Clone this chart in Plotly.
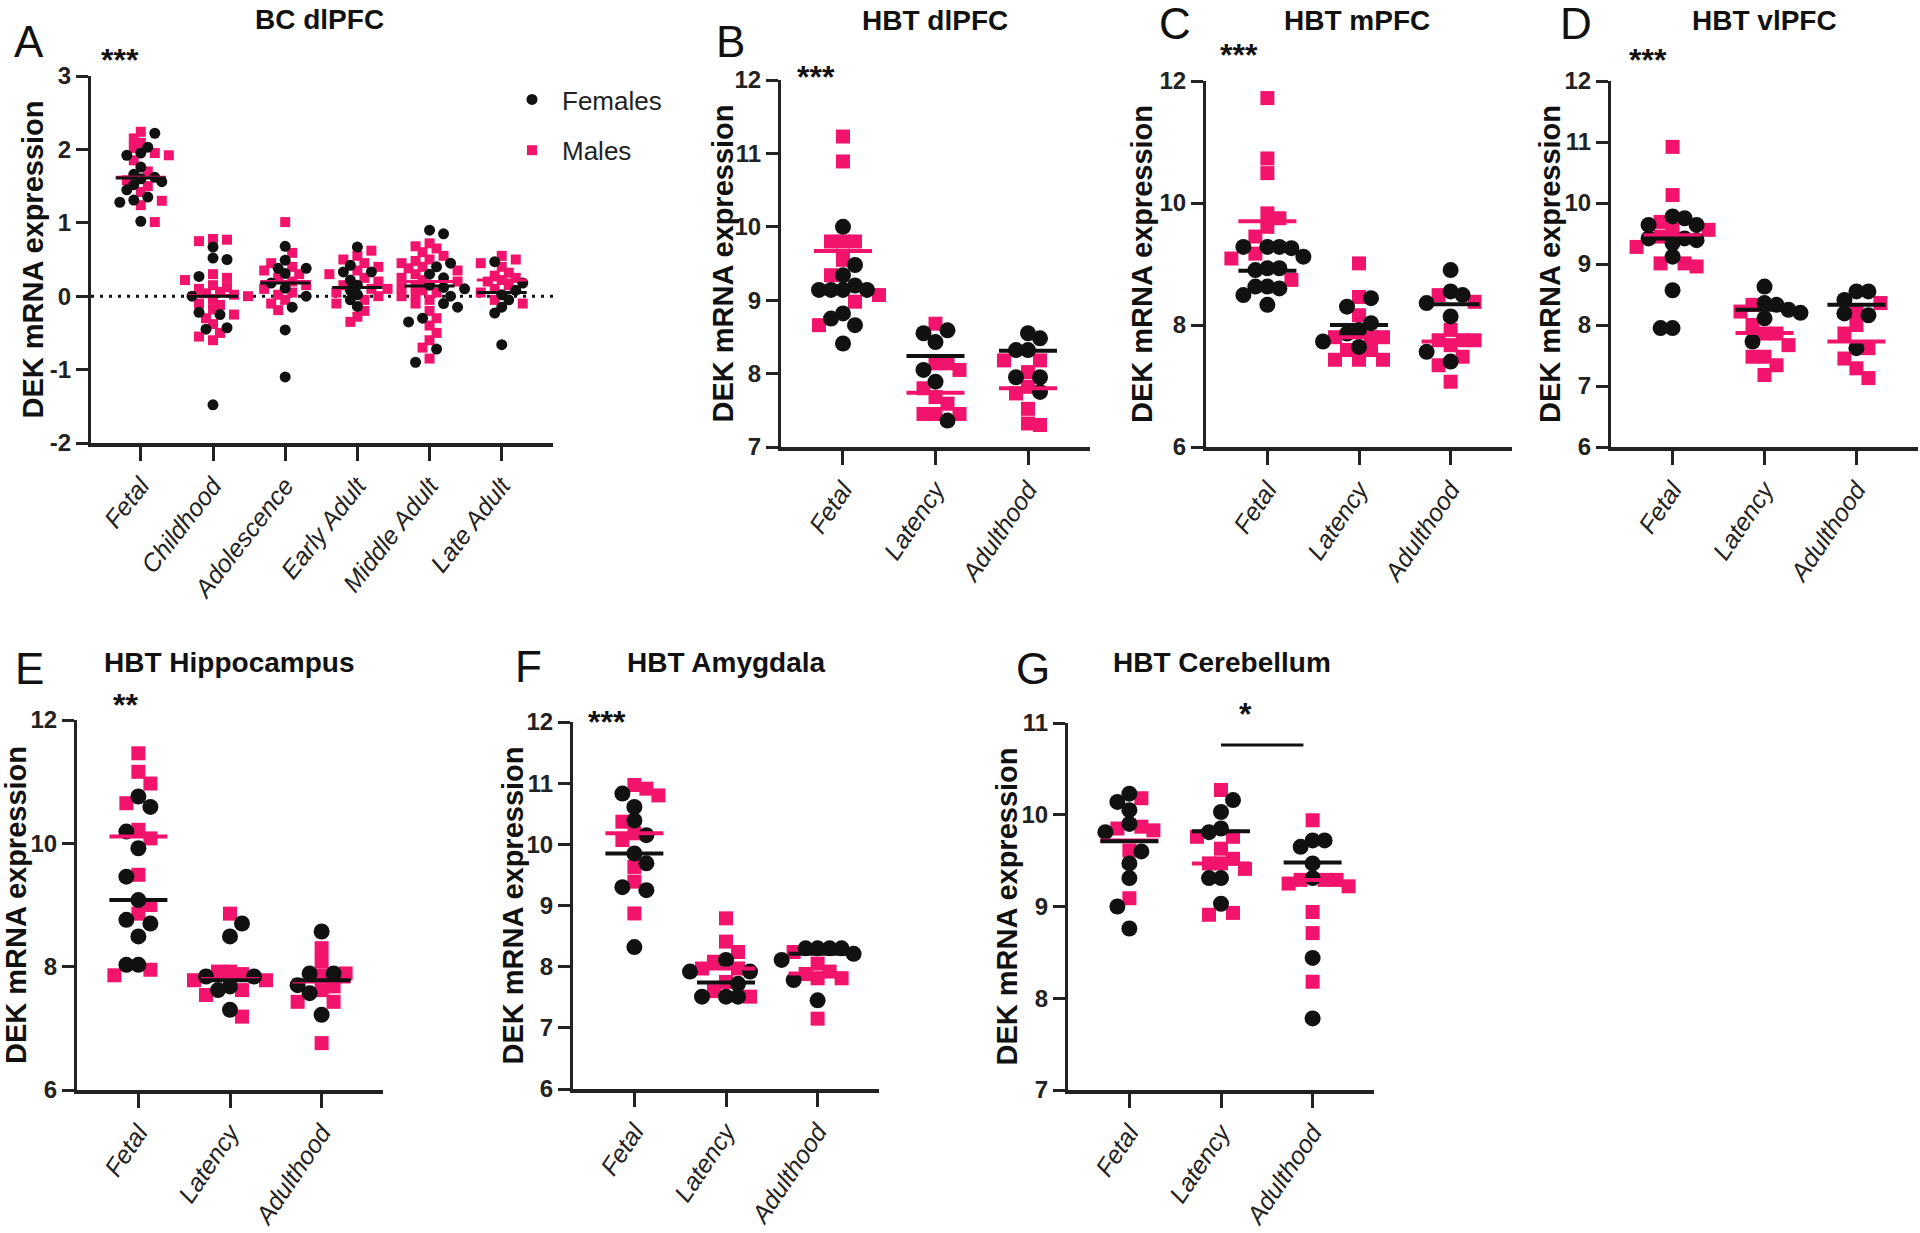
import plotly.graph_objects as go

W, H = 1920, 1233
FONT = "Liberation Sans, Arial, Helvetica, sans-serif"
PINK = "#F2146C"
INK = "#111111"
AX = "#222222"

# ---------------- categories ----------------
cats_bc = ["Fetal", "Childhood", "Adolescence", "Early Adult", "Middle Adult", "Late Adult"]
cats_hbt = ["Fetal", "Latency", "Adulthood"]

# ---------------- A: BC dlPFC ----------------
A_fem = [
    [2.22, 2.03, 1.95, 1.92, 1.76, 1.66, 1.62, 1.6, 1.56, 1.52, 1.45, 1.35, 1.31, 1.28, 1.02],
    [0.67, 0.52, 0.5, 0.27, 0.0, -0.22, -0.25, -0.43, -0.45, -1.48],
    [0.68, 0.49, 0.38, 0.38, 0.31, 0.18, 0.11, 0.0, -0.15, -0.46, -1.1],
    [0.67, 0.42, 0.33, 0.33, 0.22, 0.15, 0.08, 0.02, -0.05, -0.14],
    [0.9, 0.85, 0.45, 0.4, 0.3, 0.25, 0.15, 0.12, 0.1, 0.0, -0.1, -0.15, -0.3, -0.35, -0.72, -0.9],
    [0.47, 0.18, 0.08, 0.02, -0.05, -0.15, -0.23, -0.66],
]
A_male = [
    [2.24, 2.15, 2.09, 2.02, 1.95, 1.92, 1.85, 1.7, 1.58, 1.5, 1.42, 1.3, 1.24, 1.01],
    [0.78, 0.77, 0.75, 0.3, 0.25, 0.22, 0.15, 0.12, 0.1, 0.06, 0.04, 0.02, 0.0, -0.05, -0.1,
     -0.12, -0.18, -0.25, -0.3, -0.38, -0.5, -0.55, -0.6],
    [1.01, 0.59, 0.45, 0.4, 0.35, 0.3, 0.25, 0.2, 0.15, 0.1, 0.05, 0.02, -0.05, -0.1, -0.19],
    [0.62, 0.55, 0.5, 0.45, 0.4, 0.35, 0.3, 0.25, 0.2, 0.15, 0.1, 0.05, 0.0, -0.05, -0.1, -0.2,
     -0.28, -0.35],
    [0.72, 0.68, 0.65, 0.6, 0.55, 0.5, 0.48, 0.45, 0.4, 0.38, 0.35, 0.3, 0.25, 0.22, 0.2, 0.15,
     0.12, 0.1, 0.08, 0.05, 0.02, 0.0, -0.05, -0.1, -0.2, -0.3, -0.4, -0.5, -0.6, -0.7, -0.85],
    [0.55, 0.5, 0.45, 0.4, 0.32, 0.28, 0.25, 0.22, 0.2, 0.15, 0.1, 0.05, -0.05, -0.1],
]
A_fem_med = [1.61, 0.0, 0.18, 0.12, 0.14, 0.05]
A_male_med = [1.62, 0.01, 0.2, 0.12, 0.2, 0.22]

# ---------------- B: HBT dlPFC ----------------
B_fem = [
    [10.0, 9.48, 9.34, 9.2, 9.14, 9.14, 9.14, 9.14, 8.82, 8.75, 8.66, 8.41],
    [8.59, 8.55, 8.43, 8.05, 7.89, 7.36],
    [8.55, 8.48, 8.32, 8.32, 7.95, 7.95, 7.75],
]
B_male = [
    [11.23, 10.89, 9.8, 9.8, 9.8, 9.55, 9.34, 9.07, 8.98, 8.66],
    [8.68, 8.14, 8.14, 8.05, 7.8, 7.68, 7.59, 7.45, 7.45, 7.45],
    [8.18, 8.18, 8.02, 7.82, 7.73, 7.52, 7.32, 7.3],
]
B_fem_med = [9.14, 8.24, 8.31]
B_male_med = [9.67, 7.74, 7.8]

# ---------------- C: HBT mPFC ----------------
C_fem = [
    [9.28, 9.28, 9.28, 9.26, 9.12, 8.93, 8.93, 8.9, 8.63, 8.63, 8.6, 8.49, 8.33],
    [8.44, 8.3, 8.03, 7.92, 7.86, 7.73, 7.64],
    [8.9, 8.55, 8.49, 8.36, 8.14, 7.56, 7.4],
]
C_male = [
    [11.72, 10.73, 10.49, 9.83, 9.75, 9.61, 9.45, 9.17, 9.09, 8.74],
    [9.01, 8.46, 8.16, 7.8, 7.8, 7.8, 7.59, 7.59, 7.43, 7.43, 7.43],
    [8.49, 8.38, 7.92, 7.75, 7.75, 7.75, 7.67, 7.48, 7.34, 7.07],
]
C_fem_med = [8.89, 8.0, 8.34]
C_male_med = [9.7, 7.8, 7.73]

# ---------------- D: HBT vlPFC ----------------
D_fem = [
    [9.78, 9.75, 9.64, 9.64, 9.42, 9.42, 9.39, 9.34, 9.12, 8.57, 7.95, 7.95],
    [8.63, 8.36, 8.33, 8.25, 8.2, 8.11, 7.73],
    [8.55, 8.55, 8.41, 8.19, 8.16, 7.62],
]
D_male = [
    [10.92, 10.13, 9.69, 9.56, 9.56, 9.45, 9.28, 9.01, 9.01, 8.96],
    [8.33, 8.22, 8.0, 7.86, 7.86, 7.67, 7.48, 7.48, 7.34, 7.18],
    [8.36, 8.22, 8.0, 7.86, 7.62, 7.45, 7.29, 7.13],
]
D_fem_med = [9.42, 8.25, 8.33]
D_male_med = [9.47, 7.87, 7.73]

# ---------------- E: HBT Hippocampus ----------------
E_fem = [
    [10.76, 10.59, 10.19, 9.92, 9.46, 9.08, 8.76, 8.7, 8.49, 8.03, 8.03],
    [8.7, 8.49, 7.84, 7.84, 7.68, 7.62, 7.3],
    [8.57, 7.89, 7.89, 7.7, 7.57, 7.22],
]
E_male = [
    [11.46, 11.16, 10.97, 10.65, 10.22, 10.08, 9.49, 9.0, 8.86, 7.95, 7.86],
    [8.86, 7.92, 7.92, 7.88, 7.78, 7.78, 7.62, 7.54, 7.19],
    [8.3, 8.08, 7.89, 7.85, 7.68, 7.62, 7.43, 7.43, 6.76],
]
E_fem_med = [9.08, 7.78, 7.78]
E_male_med = [10.11, 7.8, 7.76]

# ---------------- F: HBT Amygdala ----------------
F_fem = [
    [10.83, 10.61, 10.39, 10.15, 9.85, 9.69, 9.3, 9.25, 8.32],
    [8.11, 7.92, 7.92, 7.72, 7.51, 7.51, 7.51],
    [8.3, 8.3, 8.3, 8.3, 8.21, 8.11, 7.78, 7.45],
]
F_male = [
    [10.97, 10.91, 10.8, 10.37, 10.18, 10.07, 9.63, 9.39, 8.87],
    [8.79, 8.41, 8.24, 8.08, 7.97, 7.97, 7.75, 7.6, 7.51],
    [8.24, 8.05, 7.92, 7.88, 7.81, 7.81, 7.15],
]
F_fem_med = [9.85, 7.74, 8.21]
F_male_med = [10.18, 7.97, 7.89]

# ---------------- G: HBT Cerebellum ----------------
G_fem = [
    [10.23, 10.14, 10.05, 9.9, 9.81, 9.6, 9.47, 9.31, 9.0, 8.76],
    [10.16, 10.03, 9.85, 9.81, 9.31, 9.31, 9.03],
    [9.72, 9.72, 9.65, 9.47, 9.31, 8.44, 7.78],
]
G_male = [
    [10.18, 9.87, 9.85, 9.83, 9.61, 9.09],
    [10.27, 9.76, 9.76, 9.63, 9.52, 9.47, 9.47, 9.41, 8.93, 8.91],
    [9.94, 9.29, 9.29, 9.29, 9.25, 9.22, 8.94, 8.71, 8.18],
]
G_fem_med = [9.71, 9.82, 9.48]
G_male_med = [9.72, 9.47, 9.29]

# ---------------- panel layout (pixels) ----------------
panels = [
    dict(letter="A", title="BC dlPFC", stars="***", cats=cats_bc, fem=A_fem, male=A_male,
         fmed=A_fem_med, mmed=A_male_med, yr=(-2, 3), ytv=[-2, -1, 0, 1, 2, 3],
         px=(91, 553), py=(76, 443), xr=(-0.69, 5.71), small=True, tang=-52, tfs=25,
         letter_xy=(29, 42), title_xy=(319, 19), star_xy=(120, 60), ylab_x=32),
    dict(letter="B", title="HBT dlPFC", stars="***", cats=cats_hbt, fem=B_fem, male=B_male,
         fmed=B_fem_med, mmed=B_male_med, yr=(7, 12), ytv=[7, 8, 9, 10, 11, 12],
         px=(781, 1090), py=(80, 447), xr=(-0.67, 2.67), small=False, tang=-56, tfs=25,
         letter_xy=(730, 42), title_xy=(935, 20), star_xy=(816, 77), ylab_x=723),
    dict(letter="C", title="HBT mPFC", stars="***", cats=cats_hbt, fem=C_fem, male=C_male,
         fmed=C_fem_med, mmed=C_male_med, yr=(6, 12), ytv=[6, 8, 10, 12],
         px=(1206, 1512), py=(81, 447), xr=(-0.67, 2.67), small=False, tang=-56, tfs=25,
         letter_xy=(1175, 23), title_xy=(1357, 20), star_xy=(1239, 55), ylab_x=1142),
    dict(letter="D", title="HBT vlPFC", stars="***", cats=cats_hbt, fem=D_fem, male=D_male,
         fmed=D_fem_med, mmed=D_male_med, yr=(6, 12), ytv=[6, 7, 8, 9, 10, 11, 12],
         px=(1611, 1918), py=(81, 447), xr=(-0.67, 2.67), small=False, tang=-56, tfs=25,
         letter_xy=(1576, 23), title_xy=(1764, 20), star_xy=(1648, 60), ylab_x=1550),
    dict(letter="E", title="HBT Hippocampus", stars="**", cats=cats_hbt, fem=E_fem, male=E_male,
         fmed=E_fem_med, mmed=E_male_med, yr=(6, 12), ytv=[6, 8, 10, 12],
         px=(77, 383), py=(720, 1090), xr=(-0.67, 2.67), small=False, tang=-56, tfs=25,
         letter_xy=(29, 668), title_xy=(229, 662), star_xy=(125, 705), ylab_x=16),
    dict(letter="F", title="HBT Amygdala", stars="***", cats=cats_hbt, fem=F_fem, male=F_male,
         fmed=F_fem_med, mmed=F_male_med, yr=(6, 12), ytv=[6, 7, 8, 9, 10, 11, 12],
         px=(573, 879), py=(722, 1089), xr=(-0.67, 2.67), small=False, tang=-56, tfs=25,
         letter_xy=(528, 666), title_xy=(726, 662), star_xy=(607, 722), ylab_x=512),
    dict(letter="G", title="HBT Cerebellum", stars="*", cats=cats_hbt, fem=G_fem, male=G_male,
         fmed=G_fem_med, mmed=G_male_med, yr=(7, 11), ytv=[7, 8, 9, 10, 11],
         px=(1068, 1374), py=(723, 1090), xr=(-0.67, 2.67), small=False, tang=-56, tfs=25,
         letter_xy=(1033, 668), title_xy=(1222, 662), star_xy=(1245, 714), ylab_x=1006),
]


def fx(x):
    return x / W


def fy(y):
    return 1 - y / H


def swarm(groups, ppy, slot, thr):
    """Deterministic beeswarm: returns pixel x-offsets for each value."""
    pts = []
    for s, vals in enumerate(groups):
        for j, v in enumerate(vals):
            pts.append((v, s, j))
    pts.sort(key=lambda t: -t[0])
    placed = []
    out = [[0.0] * len(g) for g in groups]
    flip = 1
    for v, s, j in pts:
        y = v * ppy
        k = 0
        chosen = None
        while chosen is None:
            cands = [0] if k == 0 else [flip * k, -flip * k]
            for c in cands:
                x = c * slot
                if all((x - a) ** 2 + (y - b) ** 2 >= thr * thr - 1e-6 for a, b in placed):
                    chosen = x
                    break
            k += 1
        if chosen > 0:
            flip = -1
        elif chosen < 0:
            flip = 1
        placed.append((chosen, y))
        out[s][j] = chosen
    return out


fig = go.Figure()
annotations = []
shapes = []

for i, p in enumerate(panels):
    n = i + 1
    xa = "x" if n == 1 else f"x{n}"
    ya = "y" if n == 1 else f"y{n}"
    ppx = (p["px"][1] - p["px"][0]) / (p["xr"][1] - p["xr"][0])
    ppy = (p["py"][1] - p["py"][0]) / (p["yr"][1] - p["yr"][0])
    if p["small"]:
        csize, ssize, slot, thr, half, lw = 11, 10, 7.0, 8.0, 25, 3
    else:
        csize, ssize, slot, thr, half, lw = 16, 14, 12.0, 11.9, 29, 4

    fx_all, fy_all, mx_all, my_all = [], [], [], []
    for c in range(len(p["cats"])):
        offs = swarm([p["fem"][c], p["male"][c]], ppy, slot, thr)
        for v, o in zip(p["fem"][c], offs[0]):
            fx_all.append(c + o / ppx)
            fy_all.append(v)
        for v, o in zip(p["male"][c], offs[1]):
            mx_all.append(c + o / ppx)
            my_all.append(v)

    fig.add_trace(go.Scatter(
        x=mx_all, y=my_all, mode="markers", xaxis=xa, yaxis=ya,
        marker=dict(symbol="square", size=ssize, color=PINK, line=dict(width=0)),
        name="Males", legendgroup="m", legendrank=2, showlegend=(n == 1), hoverinfo="skip"))
    fig.add_trace(go.Scatter(
        x=fx_all, y=fy_all, mode="markers", xaxis=xa, yaxis=ya,
        marker=dict(symbol="circle", size=csize, color=INK, line=dict(width=0)),
        name="Females", legendgroup="f", legendrank=1, showlegend=(n == 1), hoverinfo="skip"))

    hw = half / ppx
    for meds, col in ((p["mmed"], PINK), (p["fmed"], INK)):
        lx, ly = [], []
        for c, m in enumerate(meds):
            lx += [c - hw, c + hw, None]
            ly += [m, m, None]
        fig.add_trace(go.Scatter(x=lx, y=ly, mode="lines", xaxis=xa, yaxis=ya,
                                 line=dict(color=col, width=lw), showlegend=False,
                                 hoverinfo="skip"))

    xkey = "xaxis" if n == 1 else f"xaxis{n}"
    ykey = "yaxis" if n == 1 else f"yaxis{n}"
    fig.layout[xkey] = dict(
        domain=[fx(p["px"][0]), fx(p["px"][1])], anchor=ya, range=list(p["xr"]),
        automargin=False,
        tickmode="array", tickvals=list(range(len(p["cats"]))), ticktext=p["cats"],
        tickangle=p["tang"], ticks="outside", ticklen=14, tickwidth=3, tickcolor=AX,
        showline=True, linewidth=4, linecolor=AX, showgrid=False, zeroline=False,
        tickfont=dict(family=FONT, size=p["tfs"], color=AX, style="italic"), fixedrange=True)
    fig.layout[ykey] = dict(
        domain=[fy(p["py"][1]), fy(p["py"][0])], anchor=xa, range=list(p["yr"]),
        automargin=False,
        tickmode="array", tickvals=p["ytv"], ticktext=[str(t) for t in p["ytv"]],
        ticks="outside", ticklen=12, tickwidth=3, tickcolor=AX,
        showline=True, linewidth=3, linecolor=AX, showgrid=False, zeroline=False,
        tickfont=dict(family=FONT, size=24, color=AX, weight="bold"), fixedrange=True)

    lx_, ly_ = p["letter_xy"]
    annotations.append(dict(text=p["letter"], x=fx(lx_), y=fy(ly_), xref="paper", yref="paper",
                            showarrow=False, xanchor="center", yanchor="middle",
                            font=dict(family=FONT, size=44, color=INK)))
    tx, ty = p["title_xy"]
    annotations.append(dict(text=p["title"], x=fx(tx), y=fy(ty), xref="paper", yref="paper",
                            showarrow=False, xanchor="center", yanchor="middle",
                            font=dict(family=FONT, size=28, color=INK, weight="bold")))
    sx, sy = p["star_xy"]
    annotations.append(dict(text=p["stars"], x=fx(sx), y=fy(sy), xref="paper", yref="paper",
                            showarrow=False, xanchor="center", yanchor="middle",
                            font=dict(family=FONT, size=32, color=INK, weight="bold")))
    ymid = (p["py"][0] + p["py"][1]) / 2
    annotations.append(dict(text="DEK mRNA expression", x=fx(p["ylab_x"]), y=fy(ymid),
                            xref="paper", yref="paper", showarrow=False, textangle=-90,
                            xanchor="center", yanchor="middle",
                            font=dict(family=FONT, size=29, color=INK, weight="bold")))

# dotted zero line in panel A
shapes.append(dict(type="line", xref="x", yref="y", x0=panels[0]["xr"][0], x1=panels[0]["xr"][1],
                   y0=0, y1=0, line=dict(color=INK, width=3, dash="3px,6px"), layer="below"))
# significance bar in panel G (Latency vs Adulthood)
shapes.append(dict(type="line", xref="x7", yref="y7", x0=1.0, x1=1.9, y0=10.76, y1=10.76,
                   line=dict(color=INK, width=3)))

fig.update_layout(
    width=W, height=H, margin=dict(l=0, r=0, t=0, b=0, autoexpand=False),
    paper_bgcolor="white", plot_bgcolor="white",
    annotations=annotations, shapes=shapes,
    showlegend=True,
    legend=dict(x=fx(502), y=fy(76), xanchor="left", yanchor="top",
                font=dict(family=FONT, size=26, color=AX),
                traceorder="grouped", tracegroupgap=14, bgcolor="rgba(0,0,0,0)",
                itemsizing="trace", itemwidth=50),
)

fig.write_html("out.html", include_plotlyjs=True, full_html=True,
               config={"displayModeBar": False},
               post_script="document.body.style.margin='0';")
